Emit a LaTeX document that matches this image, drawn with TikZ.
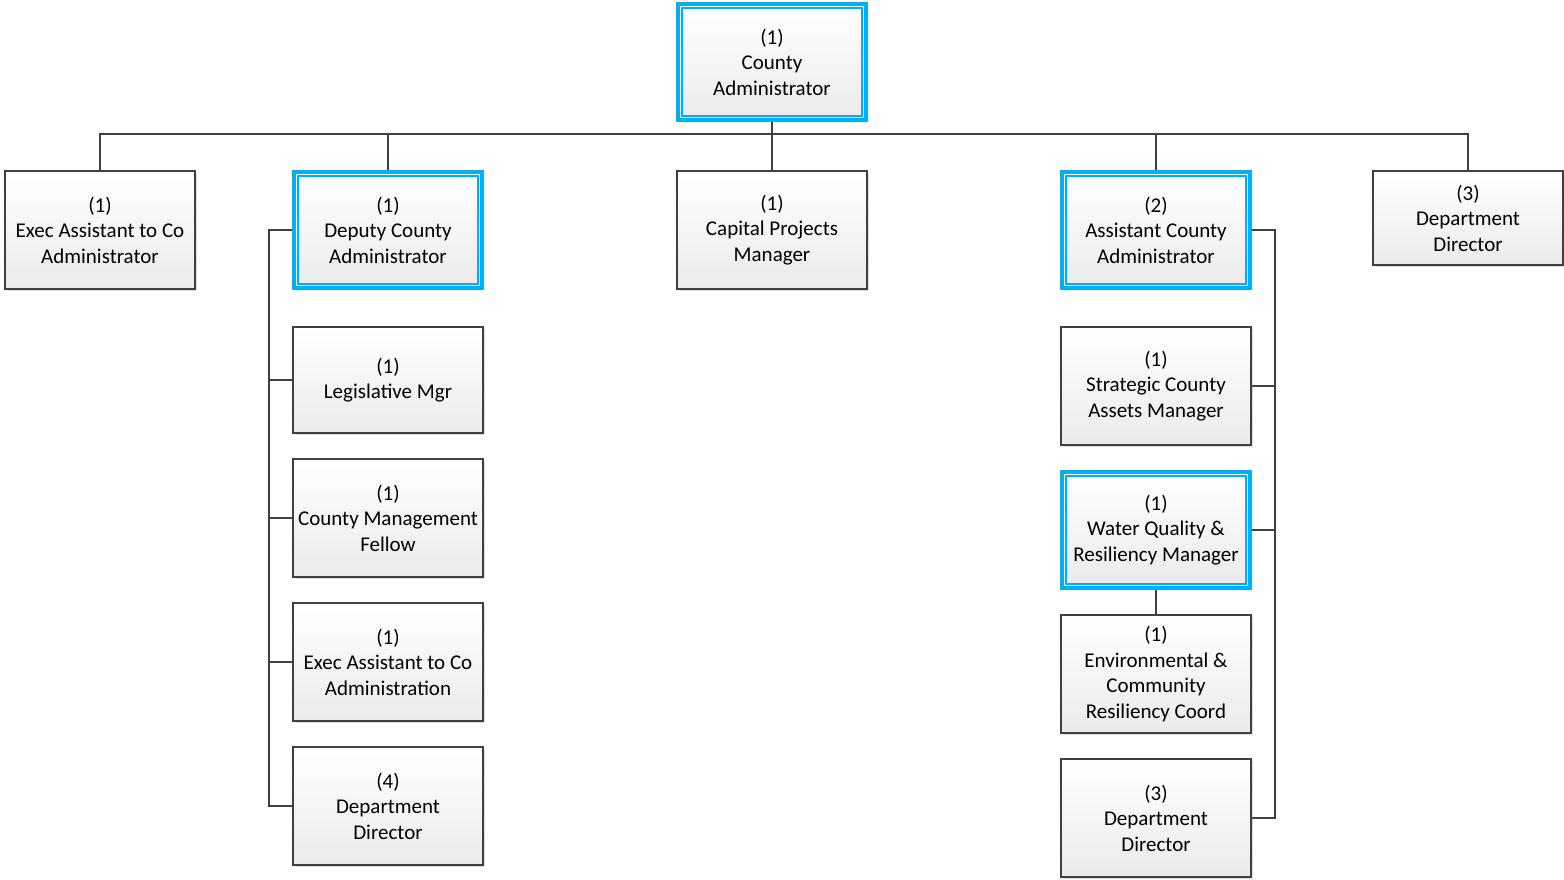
\documentclass[tikz,border=0pt]{standalone}
\usepackage{fontspec}
\setmainfont{Carlito}
\usetikzlibrary{positioning,shadows,backgrounds}
\definecolor{hlblue}{HTML}{00B0F0}
\definecolor{boxline}{HTML}{404040}
\definecolor{linegray}{HTML}{404040}

\begin{document}
\begin{tikzpicture}[
    x=1pt, y=-1pt,
    box/.style={draw=boxline, line width=1.5pt, top color=white, bottom color=gray!16,
                minimum width=190pt, minimum height=118pt, inner sep=1pt, align=center,
                font=\fontsize{21}{25.5}\selectfont,
                drop shadow={shadow xshift=2pt, shadow yshift=-2pt, opacity=0.25}},
    hl/.style={box, draw=hlblue, line width=4pt, fill=white,
               minimum width=188pt, minimum height=116pt,
               path picture={\draw[hlblue, line width=1.5pt, top color=white, bottom color=gray!16]
                  ([shift={(4pt,-4pt)}]path picture bounding box.north west) rectangle
                  ([shift={(-4pt,4pt)}]path picture bounding box.south east);}},
    conn/.style={draw=linegray, line width=2.5pt},
]
\useasboundingbox (0,0) rectangle (1564,880);

% === Top ===
\node[hl] at (772,62) (ca) {(1)\\County\\Administrator};

% === Row 1 ===
\node[box] at (100,230) (eac) {(1)\\Exec Assistant to Co\\Administrator};
\node[hl] at (388,230) (dca) {(1)\\Deputy County\\Administrator};
\node[box] at (772,230) (cpm) {(1)\\Capital Projects\\Manager};
\node[hl] at (1156,230) (aca) {(2)\\Assistant County\\Administrator};
\node[box, minimum height=94pt] at (1468,218) (dd) {(3)\\Department\\Director};

% === Deputy column ===
\node[box, minimum height=106pt] at (388,380) (lm) {(1)\\Legislative Mgr};
\node[box] at (388,518) (cmf) {(1)\\County Management\\Fellow};
\node[box] at (388,662) (ea) {(1)\\Exec Assistant to Co\\Administration};
\node[box] at (388,806) (ddl) {(4)\\Department\\Director};

% === Assistant column ===
\node[box] at (1156,386) (sca) {(1)\\Strategic County\\Assets Manager};
\node[hl] at (1156,530) (wq) {(1)\\Water Quality \&\\Resiliency Manager};
\node[box] at (1156,674) (ecr) {(1)\\Environmental \&\\Community\\Resiliency Coord};
\node[box] at (1156,818) (ddr) {(3)\\Department\\Director};

% --- Connectors ---
\begin{scope}[on background layer]
\foreach \n in {eac,dca,cpm,aca,dd}
  \draw[conn] (ca.south) -- ++(0,12) -| (\n.north);
\foreach \n in {lm,cmf,ea,ddl}
  \draw[conn] (dca.west) -- ++(-23,0) |- (\n.west);
\foreach \n in {sca,wq,ddr}
  \draw[conn] (aca.east) -- ++(23,0) |- (\n.east);
\draw[conn] (wq) -- (ecr);
\end{scope}

\end{tikzpicture}
\end{document}
